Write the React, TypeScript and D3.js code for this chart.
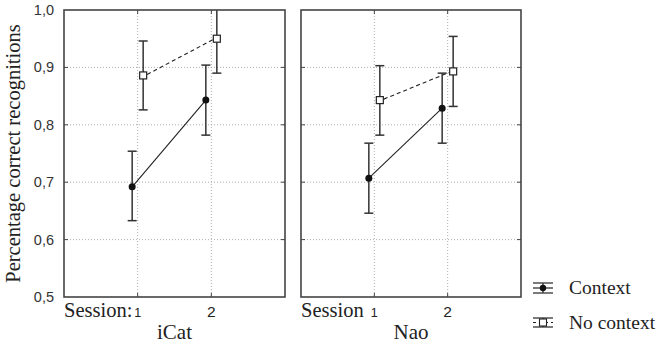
import React from "react";
import * as d3 from "d3";

const sessions = [1, 2];
const panels = ["iCat", "Nao"];
const yTicks = [0.5, 0.6, 0.7, 0.8, 0.9, 1.0];
// per panel: [session1, session2]
const contextMean = [[0.692, 0.843], [0.707, 0.829]];
const contextLow = [[0.633, 0.782], [0.646, 0.768]];
const contextHigh = [[0.754, 0.904], [0.768, 0.890]];
const noContextMean = [[0.886, 0.950], [0.843, 0.893]];
const noContextLow = [[0.826, 0.890], [0.782, 0.832]];
const noContextHigh = [[0.946, 1.01], [0.903, 0.954]];
const sessionLabels = ["Session:", "Session"];
const legendLabels = ["Context", "No context"];

const W = 661, H = 344;
const top = 10, bottom = 297;
const panelX = [[64, 285], [301, 521]];
const serif = "Liberation Serif, Times New Roman, DejaVu Serif, serif";
const sans = "Liberation Sans, Arial, sans-serif";

export default function App() {
  const y = d3.scaleLinear().domain([0.5, 1.0]).range([bottom, top]);
  const fmt = (v: number) => d3.format(".1f")(v).replace(".", ",");
  const off = 5.5;
  const cap = 4.5;
  return (
    <svg width={W} height={H} style={{ position: "absolute", left: 0, top: 0, background: "#fff" }}>
      <defs>
        {panels.map((p, i) => (
          <clipPath id={"clip" + i} key={p}>
            <rect x={panelX[i][0]} y={top} width={panelX[i][1] - panelX[i][0]} height={bottom - top} />
          </clipPath>
        ))}
      </defs>
      {yTicks.map((t) => (
        <text key={t} x={54} y={y(t) + 5} textAnchor="end" style={{ fontFamily: sans, fontSize: 14.5 }} fill="#333">
          {fmt(t)}
        </text>
      ))}
      <text
        transform={`translate(20,${(top + bottom) / 2}) rotate(-90)`}
        textAnchor="middle"
        style={{ fontFamily: serif, fontSize: 20.5 }}
        fill="#222"
      >
        Percentage correct recognitions
      </text>
      {panels.map((p, i) => {
        const [x0, x1] = panelX[i];
        const x = d3.scaleLinear().domain([0, 3]).range([x0, x1]);
        const cx = sessions.map((s) => x(s) - off);
        const nx = sessions.map((s) => x(s) + off);
        const line = d3.line<[number, number]>();
        return (
          <g key={p}>
            {yTicks.slice(1, -1).map((t) => (
              <g key={t}>
                <line x1={x0} x2={x1} y1={y(t)} y2={y(t)} stroke="#999" strokeWidth={0.8} strokeDasharray="1,2" />
                <line x1={x0} x2={x0 + 4} y1={y(t)} y2={y(t)} stroke="#444" strokeWidth={1} />
                <line x1={x1 - 4} x2={x1} y1={y(t)} y2={y(t)} stroke="#444" strokeWidth={1} />
              </g>
            ))}
            {sessions.map((s) => (
              <g key={s}>
                <line x1={x(s)} x2={x(s)} y1={top} y2={bottom} stroke="#999" strokeWidth={0.8} strokeDasharray="1,2" />
                <line x1={x(s)} x2={x(s)} y1={bottom - 4} y2={bottom} stroke="#444" strokeWidth={1} />
                <line x1={x(s)} x2={x(s)} y1={top} y2={top + 4} stroke="#444" strokeWidth={1} />
                <text x={x(s)} y={317} textAnchor="middle" style={{ fontFamily: sans, fontSize: s === 1 ? 12.5 : 15.5 }} fill="#222">
                  {s}
                </text>
              </g>
            ))}
            <g clipPath={`url(#clip${i})`}>
              <path
                d={line(sessions.map((s, j) => [cx[j], y(contextMean[i][j])]) as [number, number][]) || ""}
                stroke="#222"
                strokeWidth={1.1}
                fill="none"
              />
              <path
                d={line(sessions.map((s, j) => [nx[j] + (j === 0 ? 4 : -4), y(noContextMean[i][j]) + (j === 0 ? -1 : 1)]) as [number, number][]) || ""}
                stroke="#222"
                strokeWidth={1.1}
                strokeDasharray="4,3"
                fill="none"
              />
              {sessions.map((s, j) => (
                <g key={s}>
                  <line x1={cx[j]} x2={cx[j]} y1={y(contextLow[i][j])} y2={y(contextHigh[i][j])} stroke="#333" strokeWidth={1.5} />
                  <line x1={cx[j] - cap} x2={cx[j] + cap} y1={y(contextLow[i][j])} y2={y(contextLow[i][j])} stroke="#333" strokeWidth={1.5} />
                  <line x1={cx[j] - cap} x2={cx[j] + cap} y1={y(contextHigh[i][j])} y2={y(contextHigh[i][j])} stroke="#333" strokeWidth={1.5} />
                  <circle cx={cx[j]} cy={y(contextMean[i][j])} r={3.5} fill="#111" />
                  <line x1={nx[j]} x2={nx[j]} y1={y(noContextLow[i][j])} y2={y(noContextHigh[i][j])} stroke="#333" strokeWidth={1.5} />
                  <line x1={nx[j] - cap} x2={nx[j] + cap} y1={y(noContextLow[i][j])} y2={y(noContextLow[i][j])} stroke="#333" strokeWidth={1.5} />
                  <line x1={nx[j] - cap} x2={nx[j] + cap} y1={y(noContextHigh[i][j])} y2={y(noContextHigh[i][j])} stroke="#333" strokeWidth={1.5} />
                  <rect x={nx[j] - 3.5} y={y(noContextMean[i][j]) - 3.5} width={7} height={7} fill="#fff" stroke="#222" strokeWidth={1.2} />
                </g>
              ))}
            </g>
            <rect x={x0} y={top} width={x1 - x0} height={bottom - top} fill="none" stroke="#444" strokeWidth={1.6} />
            <text x={x0} y={317} style={{ fontFamily: serif, fontSize: 20.5 }} fill="#222">
              {sessionLabels[i]}
            </text>
            <text x={(x0 + x1) / 2} y={339} textAnchor="middle" style={{ fontFamily: serif, fontSize: 21 }} fill="#222">
              {p}
            </text>
          </g>
        );
      })}
      {legendLabels.map((l, k) => {
        const ly = k === 0 ? 288 : 322.5;
        const lx = 543;
        const h = k === 0 ? 5 : 4.5;
        return (
          <g key={l}>
            <line x1={lx - 10} x2={lx + 10} y1={ly - h} y2={ly - h} stroke="#333" strokeWidth={1.3} />
            <line x1={lx - 10} x2={lx + 10} y1={ly + h} y2={ly + h} stroke="#333" strokeWidth={1.3} />
            <line x1={lx} x2={lx} y1={ly - h} y2={ly + h} stroke="#333" strokeWidth={1.3} />
            {k === 0 ? (
              <>
                <line x1={lx - 10} x2={lx + 10} y1={ly} y2={ly} stroke="#222" strokeWidth={1.2} />
                <circle cx={lx} cy={ly} r={3.2} fill="#111" />
              </>
            ) : (
              <>
                <line x1={lx - 10} x2={lx + 10} y1={ly} y2={ly} stroke="#222" strokeWidth={1.2} strokeDasharray="3,3" />
                <rect x={lx - 3.5} y={ly - 3.5} width={7} height={7} fill="#fff" stroke="#222" strokeWidth={1.1} />
              </>
            )}
            <text x={569} y={ly + 6} style={{ fontFamily: serif, fontSize: 19.5 }} fill="#222">
              {l}
            </text>
          </g>
        );
      })}
    </svg>
  );
}
